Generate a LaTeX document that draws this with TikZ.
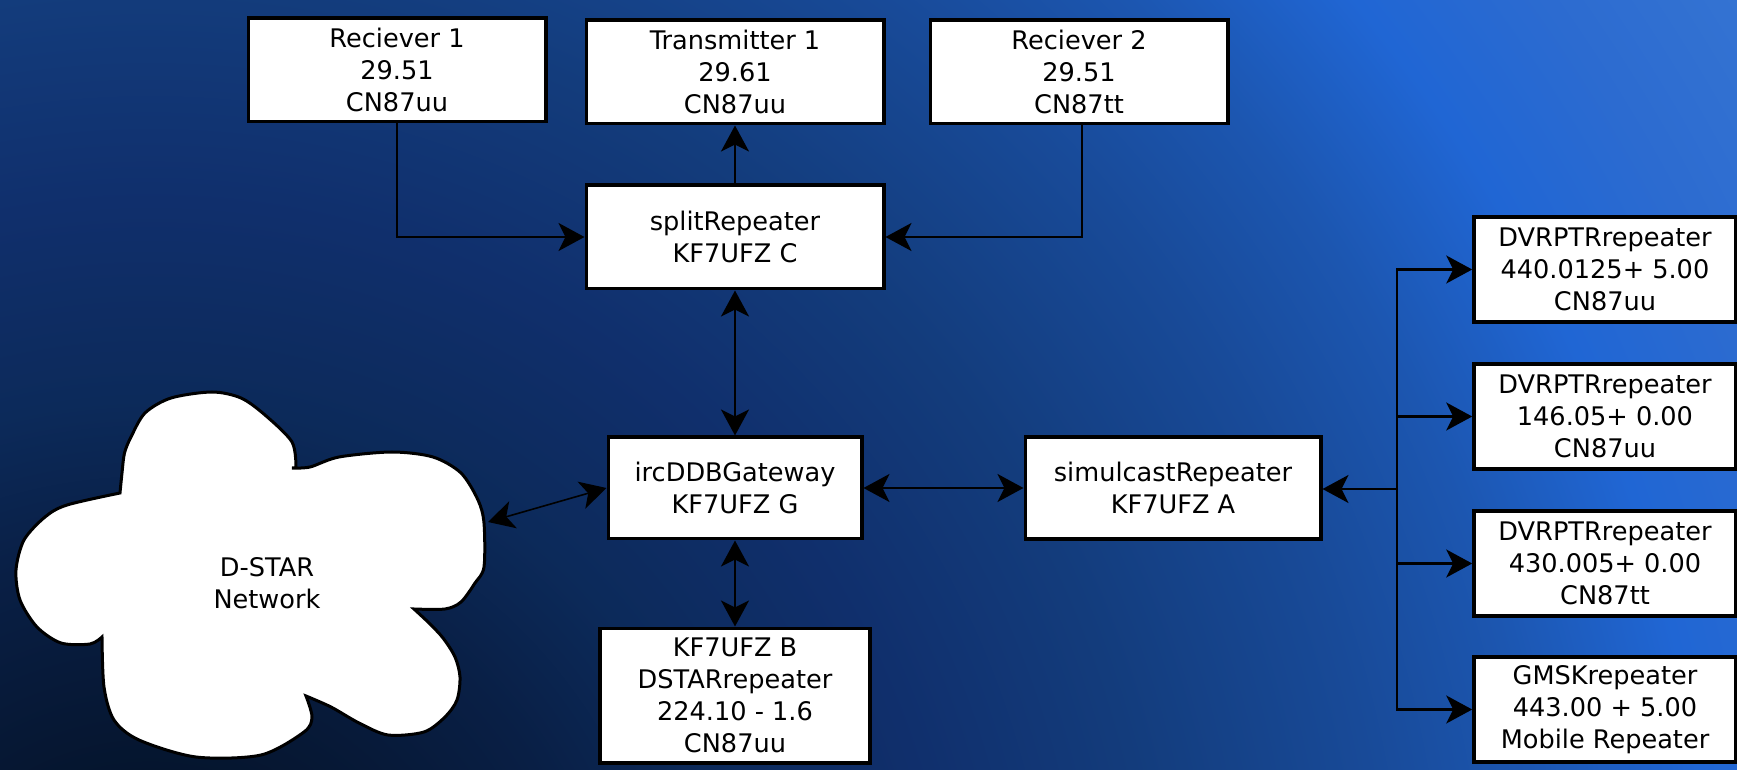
\documentclass[tikz,border=0pt]{standalone}
\usepackage{fontspec}
\setmainfont{DejaVu Sans}
\usetikzlibrary{arrows.meta,positioning}

\definecolor{bgA}{HTML}{05152E}
\definecolor{bgB}{HTML}{091F45}
\definecolor{bgC}{HTML}{0C2A5A}
\definecolor{bgD}{HTML}{102F6C}
\definecolor{bgE}{HTML}{133C7C}
\definecolor{bgF}{HTML}{184A98}
\definecolor{bgG}{HTML}{1C56B0}
\definecolor{bgH}{HTML}{2066D4}
\definecolor{bgI}{HTML}{2C6BD0}
\definecolor{bgJ}{HTML}{3473D2}
\pgfdeclareradialshading{bgglow}{\pgfpoint{0bp}{0bp}}{color(0bp)=(bgA); color(3bp)=(bgA); color(5.9bp)=(bgB);
  color(7.9bp)=(bgC); color(10.5bp)=(bgD); color(13.3bp)=(bgE); color(16.3bp)=(bgF); color(18.4bp)=(bgG);
  color(20.6bp)=(bgH); color(22.6bp)=(bgI); color(24.7bp)=(bgJ); color(50bp)=(bgJ)}

\tikzset{
  radiobox/.style={draw=black, fill=white, line width=1.8pt, align=center, inner sep=0pt,
    font=\fontsize{12.8}{16}\selectfont},
  link/.style={line width=1.25pt, >={Stealth[length=13pt,width=14pt,inset=3.5pt]}},
  netcloud/.style={draw=black, fill=white, line width=1.5pt},
}

\begin{document}
\begin{tikzpicture}[x=0.5pt,y=-0.5pt]
    \useasboundingbox (0,0) rectangle (1737,770);
    \begin{scope}
      \clip (0,0) rectangle (1737,770);
      \shade[shading=bgglow] (-1750,-900) rectangle (2050,2900);
    \end{scope}

    % top row
    \node[radiobox, minimum width=148.7pt, minimum height=51.7pt] (trans1) at (735,72) {Transmitter 1\\29.61\\CN87uu};
    \node[radiobox, minimum width=148.7pt, minimum height=51.7pt] (rec1) [left=18.5pt of trans1, yshift=1pt] {Reciever 1\\29.51\\CN87uu};
    \node[radiobox, minimum width=148.7pt, minimum height=51.7pt] (rec2) [right=21.5pt of trans1] {Reciever 2\\29.51\\CN87tt};

    % middle column
    \node[radiobox, minimum width=148.7pt, minimum height=51.7pt] (split) [below=29pt of trans1] {splitRepeater\\KF7UFZ C};
    \node[radiobox, minimum width=126.7pt, minimum height=50.7pt] (gateway) [below=72.5pt of split] {ircDDBGateway\\KF7UFZ G};
    \node[radiobox, minimum width=135.2pt, minimum height=67.2pt] (dstar) [below=43pt of gateway] {KF7UFZ B\\DSTARrepeater\\224.10 - 1.6\\CN87uu};
    \node[radiobox, minimum width=147.7pt, minimum height=51.2pt] (simulcast) [right=80pt of gateway] {simulcastRepeater\\KF7UFZ A};

    % right column
    \node[radiobox, minimum width=131pt, minimum height=52.7pt] (dvrA) at (1605,269.5) {DVRPTRrepeater\\440.0125+ 5.00\\CN87uu};
    \node[radiobox, minimum width=131pt, minimum height=52.7pt] (dvrB) [below=19pt of dvrA] {DVRPTRrepeater\\146.05+ 0.00\\CN87uu};
    \node[radiobox, minimum width=131pt, minimum height=52.7pt] (dvrC) [below=19pt of dvrB] {DVRPTRrepeater\\430.005+ 0.00\\CN87tt};
    \node[radiobox, minimum width=131pt, minimum height=52.7pt] (gmsk) [below=18.5pt of dvrC] {GMSKrepeater\\443.00 + 5.00\\Mobile Repeater};

    % cloud
    \draw[netcloud] plot[smooth] coordinates {(120,493) (122,473) (124.5,453) (131,437) (145,413) (171,398) (212,392) (241,398) (265,415) (292,442) (296,468)}
      -- plot[smooth] coordinates {(292,468) (310,467) (339,457) (392,452) (433,457) (461,473) (478,500) (484,523) (484,567) (475,583) (461,602) (445,609) (414,609)}
      -- plot[smooth] coordinates {(414,609) (429,623) (443,638) (455,657) (460,677) (457,700) (445,717) (424,732) (388,735) (359,723) (331,707) (306,696)}
      -- plot[smooth] coordinates {(306,696) (312,717) (304,732) (261,755) (196,757) (139,740) (114,720) (104,687) (102,637)}
      -- plot[smooth] coordinates {(102,637) (90,644) (61,643) (37,627) (20,600) (16,570) (24,540) (45,517) (67,505) (120,493)}
      -- cycle;
    \node[align=center, inner sep=0pt, font=\fontsize{12.8}{16}\selectfont] (network) at (267,583) {D-STAR\\Network};

    \coordinate (netport) at (488,522);
    \coordinate (bus) at (1397,489);

    \draw[link, ->] (rec1) |- (split);
    \draw[link, ->] ([xshift=1.5pt]rec2.south) |- (split);
    \draw[link, ->] (split) -- (trans1);
    \draw[link, <->] (split) -- (gateway);
    \draw[link, <->] (dstar) -- (gateway);
    \draw[link, <->] (gateway) -- (simulcast);
    \draw[link, <->, line width=.8pt] (netport) -- (gateway.west);
    \draw[link, ->] (bus) -- (simulcast.east |- bus);
    \draw[link, ->] (bus) |- (dvrA.west);
    \draw[link, ->] (bus) |- (dvrB.west);
    \draw[link, ->] (bus) |- (dvrC.west);
    \draw[link, ->] (bus) |- (gmsk.west);
\end{tikzpicture}
\end{document}
